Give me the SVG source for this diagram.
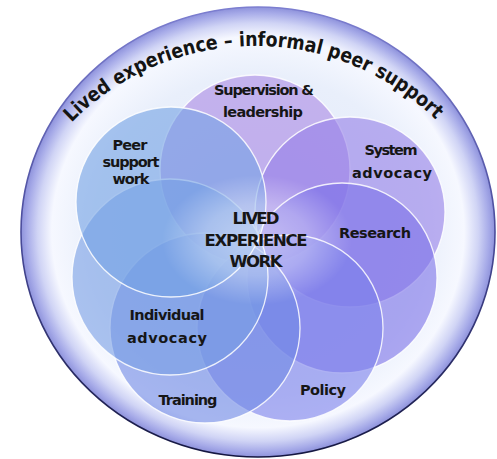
<svg xmlns="http://www.w3.org/2000/svg" width="497" height="459" viewBox="0 0 497 459">
<defs>
<radialGradient id="ringFill" cx="0.5" cy="0.5" r="0.5">
<stop offset="0" stop-color="#dfe7f8"/>
<stop offset="0.7" stop-color="#e9effb"/>
<stop offset="0.83" stop-color="#f3f6fe"/>
<stop offset="0.87" stop-color="#f6f8ff"/>
<stop offset="0.93" stop-color="#d0d4f5"/>
<stop offset="0.975" stop-color="#a6aae8"/>
<stop offset="1" stop-color="#8e92db"/>
</radialGradient>
<linearGradient id="rimStroke" x1="0" y1="0" x2="0" y2="1">
<stop offset="0" stop-color="#7c7ed0"/>
<stop offset="0.5" stop-color="#4a4c9c"/>
<stop offset="1" stop-color="#141640"/>
</linearGradient>
<radialGradient id="glow" cx="0.5" cy="0.5" r="0.5">
<stop offset="0" stop-color="#ffffff" stop-opacity="0.5"/>
<stop offset="0.55" stop-color="#ffffff" stop-opacity="0.32"/>
<stop offset="1" stop-color="#ffffff" stop-opacity="0"/>
</radialGradient>
<path id="arcPath" d="M 60 135 A 258 258 0 0 1 450 135"/>
<style>
.petal{stroke:#ffffff;stroke-width:1.3;stroke-opacity:0.85;fill-opacity:0.6}
.lbl{font-family:"DejaVu Sans","Liberation Sans",sans-serif;font-weight:bold;font-size:14.5px;fill:#161616;text-anchor:middle}
.ctr{font-size:16.5px}
.arc{font-family:"DejaVu Sans","Liberation Sans",sans-serif;font-weight:bold;font-size:20px;fill:#141414}
</style>
</defs>

<g id="outer-ring">
<ellipse cx="258" cy="232" rx="237" ry="225" fill="url(#ringFill)" stroke="url(#rimStroke)" stroke-width="1.6"/>
<g id="ring-title">
<text class="arc"><textPath href="#arcPath" startOffset="17" textLength="52.7" lengthAdjust="spacingAndGlyphs">Lived</textPath></text>
<text class="arc"><textPath href="#arcPath" startOffset="75.8" textLength="108.6" lengthAdjust="spacingAndGlyphs">experience</textPath></text>
<text class="arc"><textPath href="#arcPath" startOffset="190.4" textLength="8.7" lengthAdjust="spacingAndGlyphs">–</textPath></text>
<text class="arc"><textPath href="#arcPath" startOffset="205.2" textLength="82.4" lengthAdjust="spacingAndGlyphs">informal</textPath></text>
<text class="arc"><textPath href="#arcPath" startOffset="293.6" textLength="44.7" lengthAdjust="spacingAndGlyphs">peer</textPath></text>
<text class="arc"><textPath href="#arcPath" startOffset="344.4" textLength="76.6" lengthAdjust="spacingAndGlyphs">support</textPath></text>
</g>
</g>

<g id="petals">
<g id="supervision-leadership"><circle class="petal" cx="255" cy="170" r="95" fill="#aa88e5"/></g>
<g id="system-advocacy"><circle class="petal" cx="350" cy="212" r="95" fill="#947fe8"/></g>
<g id="research"><circle class="petal" cx="342" cy="278" r="95" fill="#7b72e8"/></g>
<g id="policy"><circle class="petal" cx="290" cy="328" r="93" fill="#7b81eb"/></g>
<g id="training"><circle class="petal" cx="205" cy="328" r="95" fill="#6f89e5"/></g>
<g id="individual-advocacy"><circle class="petal" cx="170" cy="277" r="98" fill="#789fe5"/></g>
<g id="peer-support-work"><circle class="petal" cx="171" cy="202" r="95" fill="#73a1e5"/></g>
</g>

<ellipse id="center-glow" cx="257" cy="240" rx="95" ry="65" fill="url(#glow)"/>

<g id="labels">
<g id="label-supervision"><text class="lbl" x="264" y="95" textLength="100">Supervision &amp;</text><text class="lbl" x="263" y="117" textLength="80">leadership</text></g>
<g id="label-peer"><text class="lbl" x="130" y="150" textLength="35">Peer</text><text class="lbl" x="131" y="167" textLength="57">support</text><text class="lbl" x="131" y="184" textLength="37">work</text></g>
<g id="label-system"><text class="lbl" x="391" y="155" textLength="53">System</text><text class="lbl" x="392" y="178" textLength="80">advocacy</text></g>
<g id="label-research"><text class="lbl" x="375" y="238" textLength="72">Research</text></g>
<g id="label-center"><text class="lbl ctr" x="256" y="224" textLength="47">LIVED</text><text class="lbl ctr" x="256" y="246" textLength="103">EXPERIENCE</text><text class="lbl ctr" x="256" y="267" textLength="53">WORK</text></g>
<g id="label-individual"><text class="lbl" x="167" y="320" textLength="75">Individual</text><text class="lbl" x="167" y="343" textLength="80">advocacy</text></g>
<g id="label-training"><text class="lbl" x="188" y="405" textLength="59">Training</text></g>
<g id="label-policy"><text class="lbl" x="323" y="395" textLength="46">Policy</text></g>
</g>
</svg>
